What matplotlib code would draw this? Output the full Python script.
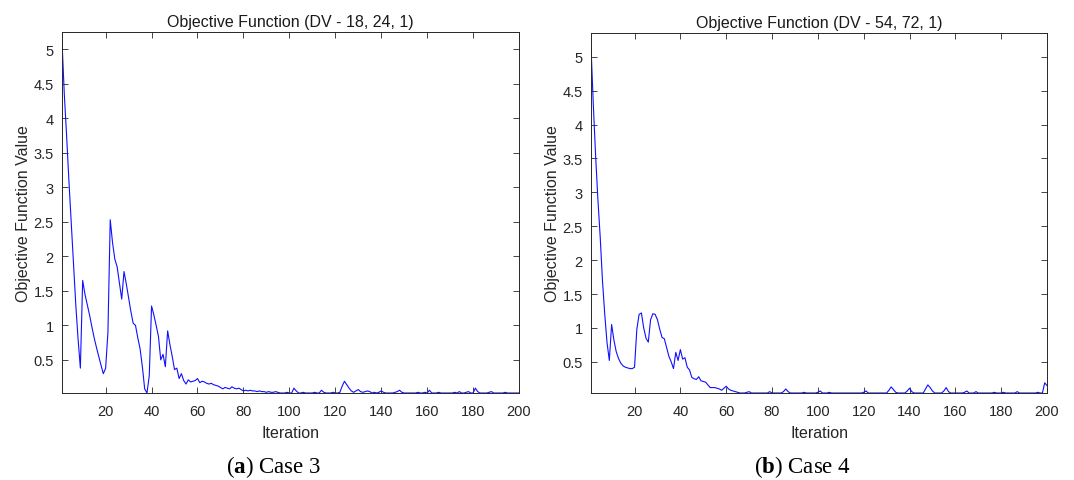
import matplotlib
matplotlib.use("Agg")
import matplotlib.pyplot as plt
import numpy as np

plt.rcParams['font.family'] = ['Liberation Sans', 'DejaVu Sans']
plt.rcParams['mathtext.fontset'] = 'custom'
plt.rcParams['mathtext.rm'] = 'Liberation Serif'
plt.rcParams['mathtext.bf'] = 'Liberation Serif:bold'

iterations = np.arange(1, 201)

# case 3 (DV - 18, 24, 1)
obj_case3 = [
    5.12, 4.35, 3.75, 3.10, 2.50, 1.92, 1.30, 0.80, 0.38, 1.65,
    1.45, 1.30, 1.15, 0.98, 0.82, 0.68, 0.55, 0.42, 0.30, 0.38,
    0.90, 2.53, 2.20, 1.96, 1.85, 1.62, 1.38, 1.78, 1.60, 1.40,
    1.20, 1.03, 1.00, 0.82, 0.66, 0.40, 0.08, 0.02, 0.27, 1.28,
    1.15, 1.00, 0.84, 0.50, 0.58, 0.40, 0.92, 0.72, 0.55, 0.36,
    0.38, 0.23, 0.30, 0.20, 0.15, 0.21, 0.18, 0.19, 0.20, 0.23,
    0.17, 0.19, 0.18, 0.16, 0.15, 0.16, 0.14, 0.13, 0.12, 0.10,
    0.08, 0.10, 0.09, 0.08, 0.11, 0.09, 0.08, 0.09, 0.07, 0.05,
    0.06, 0.05, 0.06, 0.05, 0.05, 0.04, 0.05, 0.04, 0.04, 0.03,
    0.04, 0.03, 0.03, 0.04, 0.03, 0.02, 0.02, 0.02, 0.03, 0.02,
    0.02, 0.09, 0.05, 0.02, 0.02, 0.03, 0.02, 0.02, 0.02, 0.02,
    0.03, 0.02, 0.02, 0.06, 0.03, 0.02, 0.02, 0.02, 0.03, 0.02,
    0.02, 0.03, 0.12, 0.19, 0.14, 0.09, 0.05, 0.03, 0.05, 0.07,
    0.04, 0.03, 0.04, 0.05, 0.04, 0.02, 0.03, 0.02, 0.03, 0.05,
    0.03, 0.02, 0.02, 0.02, 0.02, 0.03, 0.04, 0.06, 0.03, 0.02,
    0.02, 0.02, 0.02, 0.02, 0.02, 0.03, 0.02, 0.02, 0.03, 0.02,
    0.06, 0.02, 0.02, 0.02, 0.03, 0.02, 0.02, 0.02, 0.02, 0.02,
    0.02, 0.03, 0.02, 0.04, 0.02, 0.02, 0.03, 0.04, 0.02, 0.02,
    0.09, 0.04, 0.02, 0.02, 0.02, 0.02, 0.03, 0.04, 0.02, 0.02,
    0.02, 0.02, 0.02, 0.03, 0.02, 0.02, 0.02, 0.02, 0.02, 0.02,
]

# case 4 (DV - 54, 72, 1)
obj_case4 = [
    5.15, 4.30, 3.55, 2.90, 2.35, 1.70, 1.20, 0.78, 0.52, 1.05,
    0.82, 0.65, 0.55, 0.48, 0.44, 0.42, 0.41, 0.40, 0.40, 0.42,
    0.98, 1.20, 1.22, 1.00, 0.85, 0.79, 1.12, 1.21, 1.20, 1.12,
    0.98, 0.86, 0.84, 0.71, 0.58, 0.50, 0.40, 0.64, 0.52, 0.68,
    0.54, 0.56, 0.42, 0.38, 0.27, 0.25, 0.24, 0.28, 0.22, 0.21,
    0.20, 0.16, 0.12, 0.12, 0.12, 0.11, 0.10, 0.08, 0.11, 0.14,
    0.10, 0.08, 0.07, 0.06, 0.05, 0.04, 0.04, 0.04, 0.05, 0.06,
    0.04, 0.04, 0.04, 0.04, 0.04, 0.04, 0.04, 0.04, 0.06, 0.04,
    0.04, 0.04, 0.04, 0.04, 0.06, 0.10, 0.06, 0.04, 0.04, 0.04,
    0.04, 0.04, 0.04, 0.05, 0.04, 0.04, 0.04, 0.04, 0.04, 0.05,
    0.07, 0.04, 0.04, 0.04, 0.05, 0.04, 0.04, 0.04, 0.04, 0.04,
    0.04, 0.04, 0.04, 0.04, 0.04, 0.04, 0.04, 0.04, 0.04, 0.05,
    0.07, 0.04, 0.04, 0.04, 0.04, 0.04, 0.04, 0.04, 0.04, 0.04,
    0.08, 0.13, 0.09, 0.05, 0.04, 0.04, 0.04, 0.04, 0.07, 0.11,
    0.06, 0.04, 0.04, 0.04, 0.04, 0.04, 0.10, 0.16, 0.12, 0.07,
    0.04, 0.04, 0.04, 0.04, 0.07, 0.12, 0.06, 0.04, 0.04, 0.04,
    0.04, 0.04, 0.04, 0.05, 0.07, 0.04, 0.04, 0.04, 0.06, 0.04,
    0.04, 0.04, 0.04, 0.04, 0.04, 0.04, 0.05, 0.04, 0.04, 0.04,
    0.05, 0.04, 0.04, 0.04, 0.04, 0.04, 0.06, 0.04, 0.04, 0.04,
    0.04, 0.04, 0.04, 0.04, 0.04, 0.05, 0.04, 0.04, 0.19, 0.15,
]

titles = ['Objective Function (DV - 18, 24, 1)', 'Objective Function (DV - 54, 72, 1)']
captions = [('a', 'Case 3'), ('b', 'Case 4')]
x_ticks = [20, 40, 60, 80, 100, 120, 140, 160, 180, 200]
y_ticks = [0.5, 1, 1.5, 2, 2.5, 3, 3.5, 4, 4.5, 5]
y_limits = [(0.02, 5.25), (0.04, 5.35)]

W, H = 1074, 481
fig = plt.figure(figsize=(W / 100, H / 100), dpi=100)
boxes = [(62, 33, 519, 394), (591, 34, 1047, 394)]
caption_x = [274, 802]

for i, (x0, y0, x1, y1) in enumerate(boxes):
    ax = fig.add_axes([x0 / W, 1 - y1 / H, (x1 - x0) / W, (y1 - y0) / H])
    data = obj_case3 if i == 0 else obj_case4
    ax.plot(iterations, data, color='#1010ff', lw=0.8)
    ax.set_xlim(1, 200)
    ax.set_ylim(*y_limits[i])
    ax.set_xticks(x_ticks)
    ax.set_yticks(y_ticks)
    ax.set_yticklabels(['%g' % v for v in y_ticks])
    ax.tick_params(direction='in', top=True, right=True, length=4, width=0.6,
                   labelsize=10.5, colors='#262626')
    ax.tick_params(axis='x', pad=8)
    ax.tick_params(axis='y', pad=6)
    for s in ax.spines.values():
        s.set_color('#262626')
        s.set_linewidth(0.7)
    ax.set_title(titles[i], fontsize=11.5, color='#1a1a1a', pad=4)
    ax.set_xlabel('Iteration', fontsize=11.5, color='#262626', labelpad=5)
    ax.set_ylabel('Objective Function Value', fontsize=11.5, color='#262626', labelpad=2)

    fig.text(caption_x[i] / W, 1 - 467 / H, r'($\mathbf{%s}$) %s' % captions[i],
             ha='center', va='center', fontsize=16.5,
             family=['Liberation Serif', 'DejaVu Serif'])

fig.savefig('out.png', dpi=100)
